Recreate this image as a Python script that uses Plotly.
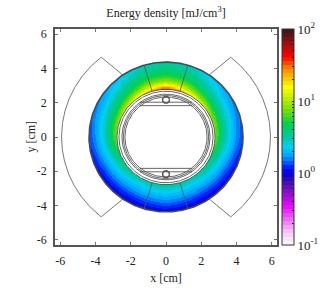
import numpy as np
import plotly.graph_objects as go
from plotly.colors import find_intermediate_color, hex_to_rgb

# log10 energy density
radii = [2.78, 3.0, 3.25, 3.5, 3.75, 4.0, 4.37]
angles_from_top = [0, 20, 40, 60, 90, 120, 150, 180]
row_0 = [1.62, 1.18, 0.92, 0.75, 0.65, 0.57, 0.50]
row_20 = [1.40, 1.08, 0.85, 0.70, 0.60, 0.52, 0.44]
row_40 = [1.15, 0.92, 0.72, 0.58, 0.48, 0.40, 0.30]
row_60 = [1.00, 0.80, 0.63, 0.50, 0.40, 0.30, 0.20]
row_90 = [0.90, 0.72, 0.55, 0.42, 0.32, 0.22, 0.12]
row_120 = [0.60, 0.52, 0.40, 0.30, 0.21, 0.12, 0.00]
row_150 = [0.50, 0.42, 0.33, 0.25, 0.17, 0.08, -0.03]
row_180 = [0.55, 0.45, 0.35, 0.27, 0.20, 0.12, 0.00]

ticks_xy = [-6, -4, -2, 0, 2, 4, 6]
cb_labels = ["10<sup>-1</sup>", "10<sup>0</sup>", "10<sup>1</sup>", "10<sup>2</sup>"]

palette = [(0, "#fff8ff"), (0.06, "#f4c8f4"), (0.18, "#e408ff"), (0.24, "#9010c8"),
           (0.29, "#4010b0"), (0.333, "#0000e8"), (0.36, "#0020ff"), (0.41, "#00a0ff"),
           (0.45, "#00d0f8"), (0.50, "#00c8a0"), (0.56, "#00d050"), (0.63, "#80e000"),
           (0.73, "#ffff00"), (0.82, "#ff8000"), (0.87, "#ff0000"), (0.93, "#a01010"),
           (1.0, "#301818")]


def color_at(f):
    for (a, ca), (b, cb) in zip(palette[:-1], palette[1:]):
        if f <= b:
            c = find_intermediate_color(hex_to_rgb(ca), hex_to_rgb(cb), (f - a) / (b - a))
            return "rgb(%d,%d,%d)" % tuple(round(v) for v in c)
    return palette[-1][1]


N = 54
colorscale = []
for i in range(N):
    c = color_at((i + 0.5) / N)
    colorscale += [[i / N, c], [(i + 1) / N, c]]

table = np.array([row_0, row_20, row_40, row_60, row_90, row_120, row_150, row_180])
gx = np.linspace(-4.45, 4.45, 300)
gy = np.linspace(-4.45, 4.45, 300)
X, Y = np.meshgrid(gx, gy)
R = np.hypot(X, Y)
T = np.degrees(np.arctan2(np.abs(X), Y))
# look up the table on the polar grid
ti = np.clip(np.searchsorted(angles_from_top, T) - 1, 0, len(angles_from_top) - 2)
ri = np.clip(np.searchsorted(radii, R) - 1, 0, len(radii) - 2)
a = np.array(angles_from_top, float)
r = np.array(radii)
tf = (T - a[ti]) / (a[ti + 1] - a[ti])
rf = np.clip((R - r[ri]) / (r[ri + 1] - r[ri]), 0, 1)
Z = ((1 - tf) * (1 - rf) * table[ti, ri] + tf * (1 - rf) * table[ti + 1, ri]
     + (1 - tf) * rf * table[ti, ri + 1] + tf * rf * table[ti + 1, ri + 1])
Z[(R < radii[0]) | (R > radii[-1])] = np.nan

cb_vals, cb_text = [], []
for d in (-1, 0, 1):
    for m in range(1, 10):
        cb_vals.append(d + np.log10(m))
        cb_text.append(cb_labels[d + 1] if m == 1 else "")
cb_vals.append(2)
cb_text.append(cb_labels[3])

fig = go.Figure()
fig.add_trace(go.Heatmap(
    x=gx, y=gy, z=Z, zmin=-1, zmax=2, colorscale=colorscale, hoverinfo="skip",
    colorbar=dict(x=1.024, xanchor="left", y=0.5, yanchor="middle", len=1, lenmode="fraction",
                  thickness=11.5, thicknessmode="pixels", xpad=0, ypad=0,
                  outlinecolor="#333333", outlinewidth=1, tickmode="array",
                  tickvals=cb_vals, ticktext=cb_text, ticks="inside", ticklen=2,
                  tickcolor="#222222", tickwidth=1,
                  tickfont=dict(family="Liberation Serif", size=13, color="#222222"))))


def circle(rad, cx=0.0, cy=0.0, t0=0.0, t1=360.0):
    t = np.radians(np.linspace(t0, t1, 241))
    return cx + rad * np.cos(t), cy + rad * np.sin(t)


def line(x, y, w=1.0, c="#555555"):
    fig.add_trace(go.Scatter(x=x, y=y, mode="lines", line=dict(color=c, width=w),
                             hoverinfo="skip", showlegend=False))


# Coil geometry
outer_r, sector_r = 4.37, 5.93
ring_radii = [2.78, 2.67, 2.5, 2.42, 2.33]
sector_half = 16.5
wedge_in, wedge_out = 55.9, 51.7
chord_y = [1.83, 2.03]
chord_x = 1.48
hole_y, hole_r = 2.17, 0.2

line(*circle(outer_r), w=1.6, c="#4a4a4a")
for rr in ring_radii:
    line(*circle(rr), w=0.9)
ang = np.radians(90 - sector_half)
for s in (1, -1):
    for q in (1, -1):
        line([s * radii[0] * np.cos(ang), s * outer_r * np.cos(ang)],
             [q * radii[0] * np.sin(ang), q * outer_r * np.sin(ang)], w=0.8)
    for cy in chord_y:
        line([-chord_x, chord_x], [s * cy, s * cy], w=0.9)
    ai = np.radians(wedge_in)
    ax, ay = circle(sector_r, t0=-wedge_out, t1=wedge_out)
    x = np.r_[outer_r * np.cos(ai), ax[::-1], outer_r * np.cos(ai)]
    y = np.r_[outer_r * np.sin(ai), ay[::-1], -outer_r * np.sin(ai)]
    line(s * x, y, w=0.8)
    hx, hy = circle(hole_r, cy=s * hole_y)
    line(hx, hy, w=1.5)

axis = dict(range=[-6.3, 6.3], tickmode="array", tickvals=ticks_xy, ticktext=[str(v) for v in ticks_xy],
            ticks="inside", ticklen=3, tickcolor="#777777", tickwidth=1, showgrid=False, zeroline=False,
            showline=True, linecolor="#555555", linewidth=1.5, mirror="ticks", ticklabelstandoff=4,
            tickfont=dict(family="Liberation Serif", size=12, color="#222222"))
tf_font = dict(family="Liberation Serif", size=12, color="#222222")
fig.update_layout(
    width=332, height=293, autosize=False, showlegend=False, plot_bgcolor="white", paper_bgcolor="white",
    margin=dict(l=55.3, r=55.3, t=29, b=48, autoexpand=False),
    title=dict(text="Energy density [mJ/cm<sup>3</sup>]", x=0.5, xanchor="center", xref="paper",
               y=0.955, yanchor="middle", font=tf_font),
    xaxis=dict(axis, title=dict(text="x [cm]", standoff=6, font=tf_font)),
    yaxis=dict(axis),
    annotations=[dict(text="y [cm]", xref="paper", yref="paper", x=-0.11, y=0.5, xanchor="center",
                      yanchor="middle", textangle=-90, showarrow=False, font=tf_font)],
)
fig.write_html("out.html", config=dict(displayModeBar=False),
               post_script="document.body.style.margin='0';")
